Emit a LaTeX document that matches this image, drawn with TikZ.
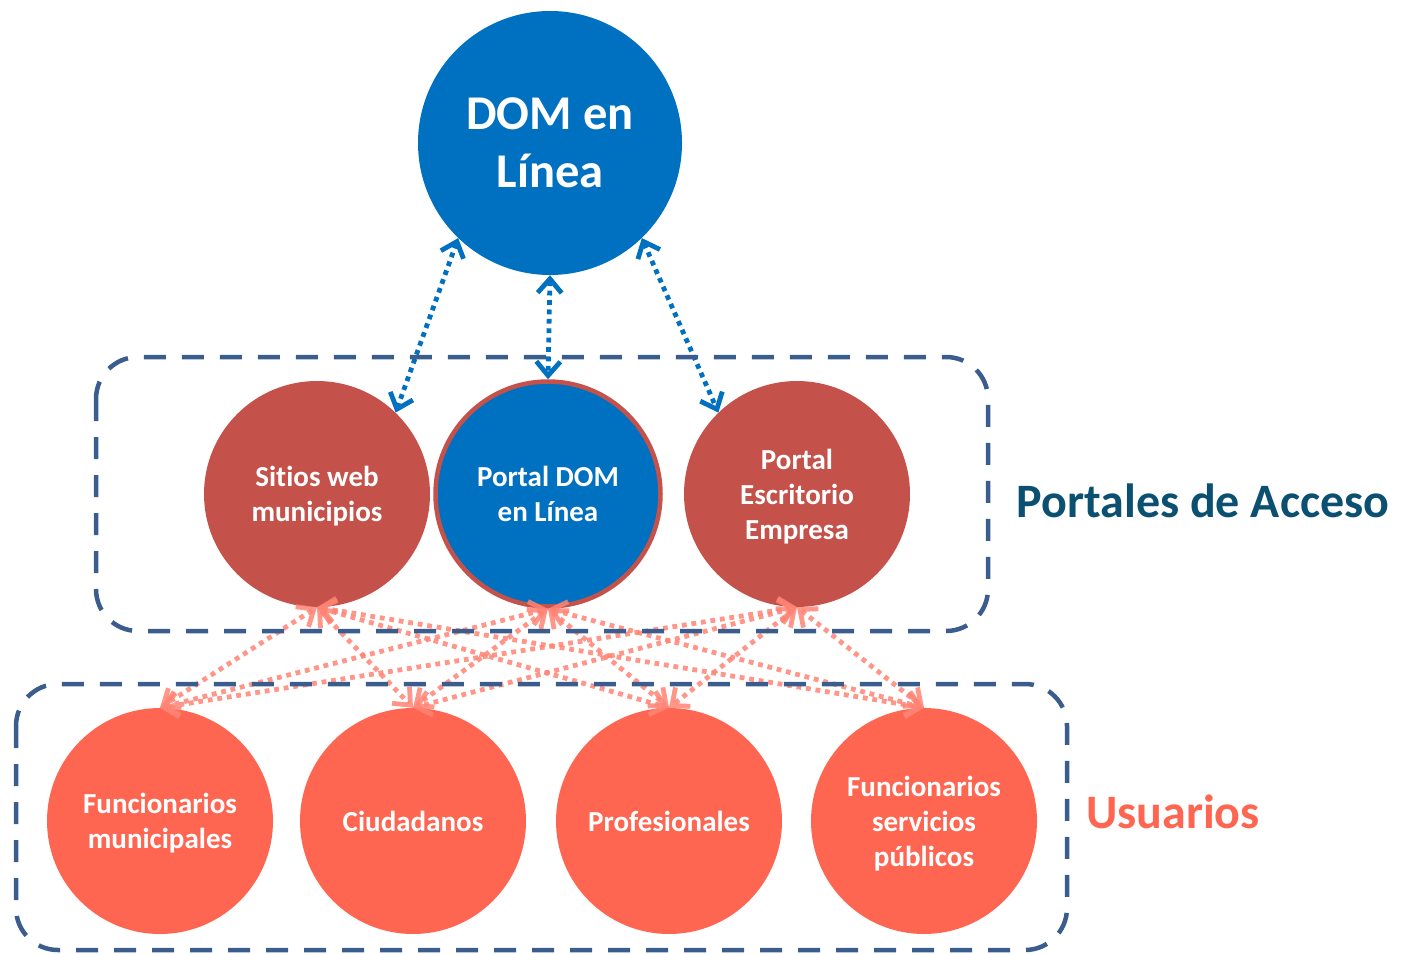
\documentclass[tikz,border=0pt]{standalone}
\usepackage{fontspec}
\setmainfont{Carlito}[Ligatures=NoCommon]
\usetikzlibrary{arrows.meta}
\definecolor{domblue}{HTML}{0070C0}
\definecolor{portalred}{HTML}{C4524A}
\definecolor{usercoral}{HTML}{FF6652}
\definecolor{linksalmon}{HTML}{FF8474}
\definecolor{framedash}{HTML}{3A5D8D}
\definecolor{portaltext}{HTML}{0B4F71}
\begin{document}
\begin{tikzpicture}[x=1pt,y=-1pt,
  bubble/.style={circle, minimum size=226pt, inner sep=0pt, text=white,
    font=\fontsize{29}{35}\selectfont\bfseries, align=center},
  smallbubble/.style={bubble, text depth=0pt},
  portalnode/.style={smallbubble, fill=portalred},
  usernode/.style={smallbubble, fill=usercoral},
  bluelink/.style={draw=domblue, line width=4.8pt, dash pattern=on 4.8pt off 4.6pt,
    {Straight Barb[length=14pt,width=24pt]}-{Straight Barb[length=14pt,width=24pt]}},
  salmonlink/.style={draw=linksalmon, draw opacity=0.85, line width=4.8pt, dash pattern=on 4.8pt off 4.8pt,
    {Straight Barb[length=14pt,width=24pt]}-{Straight Barb[length=14pt,width=24pt]}},
  frame/.style={draw=framedash, line width=4.5pt, dash pattern=on 22pt off 16pt, rounded corners=42pt},
  grouplabel/.style={font=\fontsize{48}{56}\selectfont\bfseries, anchor=center}
]
\useasboundingbox (0,0) rectangle (1408,953);

% top node
\node[bubble, minimum size=264pt, fill=domblue, font=\fontsize{48.5}{58}\selectfont\bfseries] (dom) at (550,143) {DOM en\\Línea};

% portals
\node[portalnode] (sitios) at (317,494) {Sitios web\\municipios};
\node[smallbubble, fill=domblue, draw=portalred, line width=4.5pt, minimum size=225pt] (portaldom) at (548,494) {Portal DOM\\en Línea};
\node[portalnode] (escritorio) at (797,494) {Portal\\Escritorio\\Empresa};

% users
\node[usernode] (funcmun) at (160,821) {Funcionarios\\municipales};
\node[usernode] (ciud) at (413,821) {Ciudadanos};
\node[usernode] (prof) at (669,821) {Profesionales};
\node[usernode] (funcserv) at (924,821) {Funcionarios\\servicios\\públicos};

% blue links
\draw[bluelink] (dom.-134) -- (sitios.46);
\draw[bluelink] (dom.south) -- (portaldom.north);
\draw[bluelink] (dom.-46) -- (escritorio.134);

% salmon links
\foreach \p in {sitios,portaldom,escritorio}{
  \foreach \u in {funcmun,ciud,prof,funcserv}{
    \draw[salmonlink] (\p.south) -- (\u.north);
  }
}

% frames
\draw[frame] (96,357) rectangle (988,631);
\draw[frame] (16,684) rectangle (1067,950);

% labels
\node[grouplabel, text=portaltext] (lblportales) at (1203,501) {Portales de Acceso};
\node[grouplabel, text=usercoral] (lblusuarios) at (1173,812) {Usuarios};
\end{tikzpicture}
\end{document}
